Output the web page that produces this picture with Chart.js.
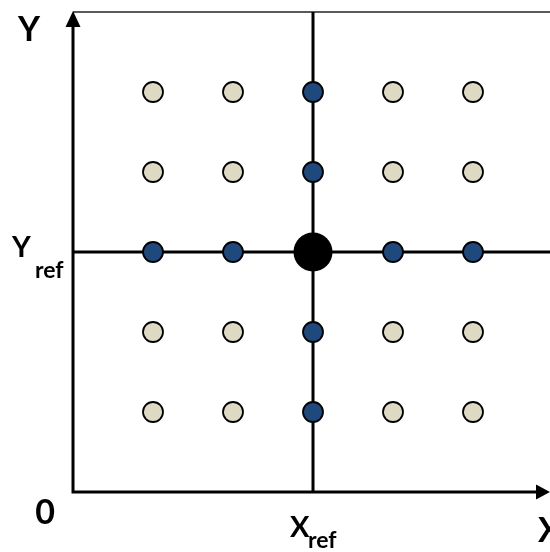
<!DOCTYPE html>
<html>
<head>
<meta charset="utf-8">
<script src="https://cdn.jsdelivr.net/npm/chart.js@4"></script>
<style>
  html, body { margin: 0; padding: 0; background: #ffffff; }
  #wrap { width: 550px; height: 552px; position: relative; }
</style>
</head>
<body>
<div id="wrap"><canvas id="c" width="550" height="552"></canvas></div>
<script>
// ---- data ----
const tanX = [1, 2, 4, 5, 1, 2, 4, 5, 1, 2, 4, 5, 1, 2, 4, 5];
const tanY = [5, 5, 5, 5, 4, 4, 4, 4, 2, 2, 2, 2, 1, 1, 1, 1];
const blueX = [3, 3, 1, 2, 4, 5, 3, 3];
const blueY = [5, 4, 3, 3, 3, 3, 2, 1];
const refX = [3];
const refY = [3];
const axisRangeX = [0, 5.9625];
const axisRangeY = [0, 6];
const originLabel = ['0'];
const axisNames = ['X', 'Y'];
const refNames = ['X', 'Y'];
const refSub = ['ref'];

const toPts = (xs, ys) => xs.map((x, i) => ({ x: x, y: ys[i] }));

const refLineV = [{ x: refX[0], y: axisRangeY[0] }, { x: refX[0], y: axisRangeY[1] }];
const refLineH = [{ x: axisRangeX[0], y: refY[0] }, { x: axisRangeX[1], y: refY[0] }];

const axesPlugin = {
  id: 'axesPlugin',
  beforeDatasetsDraw(chart) {
    const ctx = chart.ctx;
    const xs = chart.scales.x, ys = chart.scales.y;
    const x0 = xs.getPixelForValue(axisRangeX[0]);
    const xE = xs.getPixelForValue(axisRangeX[1]);
    const y0 = ys.getPixelForValue(axisRangeY[0]);
    const yT = ys.getPixelForValue(axisRangeY[1]);
    ctx.save();
    // top frame line
    ctx.strokeStyle = '#222';
    ctx.lineWidth = 1.6;
    ctx.beginPath();
    ctx.moveTo(x0, yT);
    ctx.lineTo(xE, yT);
    ctx.stroke();
    // axes
    ctx.strokeStyle = '#000';
    ctx.fillStyle = '#000';
    ctx.lineWidth = 3;
    ctx.beginPath();
    ctx.moveTo(x0, y0 + 1.5);
    ctx.lineTo(x0, yT + 14);
    ctx.moveTo(x0 - 1.5, y0);
    ctx.lineTo(xE - 13, y0);
    ctx.stroke();
    // arrow heads
    ctx.beginPath();
    ctx.moveTo(x0, yT - 1);
    ctx.lineTo(x0 - 7.5, yT + 15);
    ctx.lineTo(x0 + 7.5, yT + 15);
    ctx.closePath();
    ctx.fill();
    ctx.beginPath();
    ctx.moveTo(xE, y0);
    ctx.lineTo(xE - 14, y0 - 7.5);
    ctx.lineTo(xE - 14, y0 + 7.5);
    ctx.closePath();
    ctx.fill();
    ctx.restore();
  },
  afterDraw(chart) {
    const ctx = chart.ctx;
    const xs = chart.scales.x, ys = chart.scales.y;
    const x0 = xs.getPixelForValue(axisRangeX[0]);
    const xE = xs.getPixelForValue(axisRangeX[1]);
    const y0 = ys.getPixelForValue(axisRangeY[0]);
    const yT = ys.getPixelForValue(axisRangeY[1]);
    const xr = xs.getPixelForValue(refX[0]);
    const yr = ys.getPixelForValue(refY[0]);
    ctx.save();
    ctx.fillStyle = '#000';
    ctx.textBaseline = 'alphabetic';
    // corner labels
    ctx.font = 'bold 34px Lato, "Open Sans", sans-serif';
    ctx.textAlign = 'center';
    ctx.fillText(axisNames[1], x0 - 44, yT + 29);
    ctx.fillText(originLabel[0], x0 - 28, y0 + 32);
    ctx.textAlign = 'left';
    ctx.fillText(axisNames[0], xE - 12, y0 + 50);
    // reference labels
    ctx.font = 'bold 29px Lato, "Open Sans", sans-serif';
    ctx.fillText(refNames[0], xr - 23, y0 + 45);
    ctx.fillText(refNames[1], x0 - 61, yr + 5);
    ctx.font = 'bold 23px Lato, "Open Sans", sans-serif';
    ctx.fillText(refSub[0], xr - 5, y0 + 56);
    ctx.fillText(refSub[0], x0 - 38, yr + 26);
    ctx.restore();
  }
};

new Chart(document.getElementById('c'), {
  type: 'scatter',
  data: {
    datasets: [
      {
        label: 'ref',
        data: toPts(refX, refY),
        pointRadius: 19.5,
        pointBackgroundColor: '#000000',
        pointBorderColor: '#000000',
        pointBorderWidth: 0,
        order: 0
      },
      {
        label: 'cross',
        data: toPts(blueX, blueY),
        pointRadius: 10,
        pointBackgroundColor: '#1F497D',
        pointBorderColor: '#000000',
        pointBorderWidth: 1.8,
        order: 1
      },
      {
        label: 'grid',
        data: toPts(tanX, tanY),
        pointRadius: 10,
        pointBackgroundColor: '#DDD9C3',
        pointBorderColor: '#000000',
        pointBorderWidth: 1.8,
        order: 2
      },
      {
        label: 'vline',
        data: refLineV,
        showLine: true,
        borderColor: '#000000',
        borderWidth: 3,
        pointRadius: 0,
        clip: false,
        order: 3
      },
      {
        label: 'hline',
        data: refLineH,
        showLine: true,
        borderColor: '#000000',
        borderWidth: 3,
        pointRadius: 0,
        clip: false,
        order: 4
      }
    ]
  },
  options: {
    responsive: false,
    animation: false,
    events: [],
    layout: { autoPadding: false, padding: { left: 73, right: 0, top: 12, bottom: 60 } },
    plugins: {
      legend: { display: false },
      tooltip: { enabled: false },
      title: { display: false }
    },
    scales: {
      x: { type: 'linear', min: axisRangeX[0], max: axisRangeX[1], display: false },
      y: { type: 'linear', min: axisRangeY[0], max: axisRangeY[1], display: false }
    }
  },
  plugins: [axesPlugin]
});
</script>
</body>
</html>
